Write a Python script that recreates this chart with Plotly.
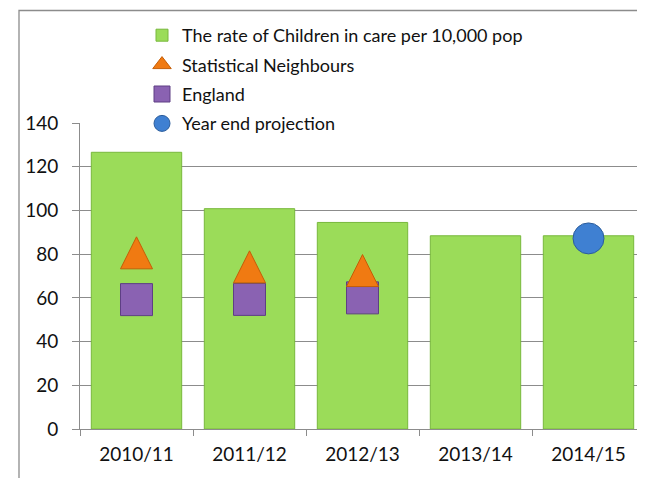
import plotly.graph_objects as go

categories = ["2010/11", "2011/12", "2012/13", "2013/14", "2014/15"]
rate_values = [126.6, 100.8, 94.5, 88.4, 88.4]
stat_neighbours = [80.6, 74.2, 72.5, None, None]
england = [59.2, 59.3, 60.0, None, None]
projection = [None, None, None, None, 87.2]
y_ticks = [0, 20, 40, 60, 80, 100, 120, 140]

FONT = "Lato"
OFF = 8  # page body margin
W, H = 645 - 2 * OFF, 486 - 2 * OFF
ML, MR, MT = 80 - OFF, 0, 123 - OFF
MB = H - (429 - OFF)
PW, PH = W - ML - MR, H - MT - MB
Y_MAX = 140
CAT_PX = 113.0
x_range = [-0.5, -0.5 + PW / CAT_PX]
TRI = 32
tri_shift = (TRI / 2) * Y_MAX / PH  # half-marker height in data units

def px_x(sx):
    return (sx - OFF - ML) / PW

def px_y(sy):
    return (H - MB - (sy - OFF)) / PH

fig = go.Figure()
fig.add_trace(go.Bar(
    x=categories, y=rate_values,
    name="The rate of Children in care per 10,000 pop",
    marker=dict(color="#9BDC59", line=dict(color="#78B83C", width=1)),
    legendgroup="a",
))
fig.add_trace(go.Scatter(
    x=categories, y=stat_neighbours, mode="markers",
    name="Statistical Neighbours", yaxis="y2", showlegend=False,
    marker=dict(symbol="arrow-up", size=TRI, color="#F07A12",
                line=dict(color="#C45E08", width=1)),
    legendgroup="b",
))
fig.add_trace(go.Scatter(
    x=[categories[0]], y=[None], mode="markers",
    name="Statistical Neighbours",
    marker=dict(symbol="triangle-up", size=16, color="#F07A12",
                line=dict(color="#C45E08", width=1)),
    legendgroup="b",
))
fig.add_trace(go.Scatter(
    x=categories, y=england, mode="markers",
    name="England",
    marker=dict(symbol="square", size=32, color="#8A62B2",
                line=dict(color="#5E3F84", width=1)),
    legendgroup="c",
))
fig.add_trace(go.Scatter(
    x=categories, y=projection, mode="markers",
    name="Year end projection",
    marker=dict(symbol="circle", size=31, color="#3F80D2",
                line=dict(color="#2A5C9C", width=1)),
    legendgroup="d",
))

# outer chart frame
fig.add_shape(type="rect", xref="paper", yref="paper",
              x0=px_x(19), x1=px_x(700), y0=px_y(540), y1=px_y(10.5),
              line=dict(color="#8C8C8C", width=1.3), fillcolor="rgba(0,0,0,0)",
              layer="below")

fig.update_layout(
    width=W, height=H,
    margin=dict(l=ML, r=MR, t=MT, b=MB, pad=0),
    paper_bgcolor="white", plot_bgcolor="white",
    bargap=0.2,
    font=dict(family=FONT, color="#111111", size=19),
    showlegend=True,
    legend=dict(
        x=px_x(142), y=px_y(17), xanchor="left", yanchor="top",
        bgcolor="rgba(0,0,0,0)", borderwidth=0,
        font=dict(family=FONT, size=18, color="#111111"),
        traceorder="grouped", tracegroupgap=3,
    ),
    xaxis=dict(
        type="category", range=x_range, tickson="boundaries", ticks="outside",
        ticklen=6, tickcolor="#8C8C8C", showline=True, linecolor="#8C8C8C",
        linewidth=1, showgrid=False, ticklabelstandoff=8,
        tickfont=dict(family=FONT, size=19, color="#111111"),
    ),
    yaxis=dict(
        range=[0, Y_MAX], tickvals=y_ticks, ticks="outside", ticklen=7,
        tickcolor="#8C8C8C", showline=True, linecolor="#8C8C8C", linewidth=1,
        showgrid=True, gridcolor="#8C8C8C", gridwidth=1, zeroline=False,
        ticklabelstandoff=10,
        tickfont=dict(family=FONT, size=19, color="#111111"),
    ),
    yaxis2=dict(
        overlaying="y", range=[-tri_shift, Y_MAX - tri_shift], visible=False,
        showgrid=False, zeroline=False,
    ),
)

fig.write_html("out.html")
